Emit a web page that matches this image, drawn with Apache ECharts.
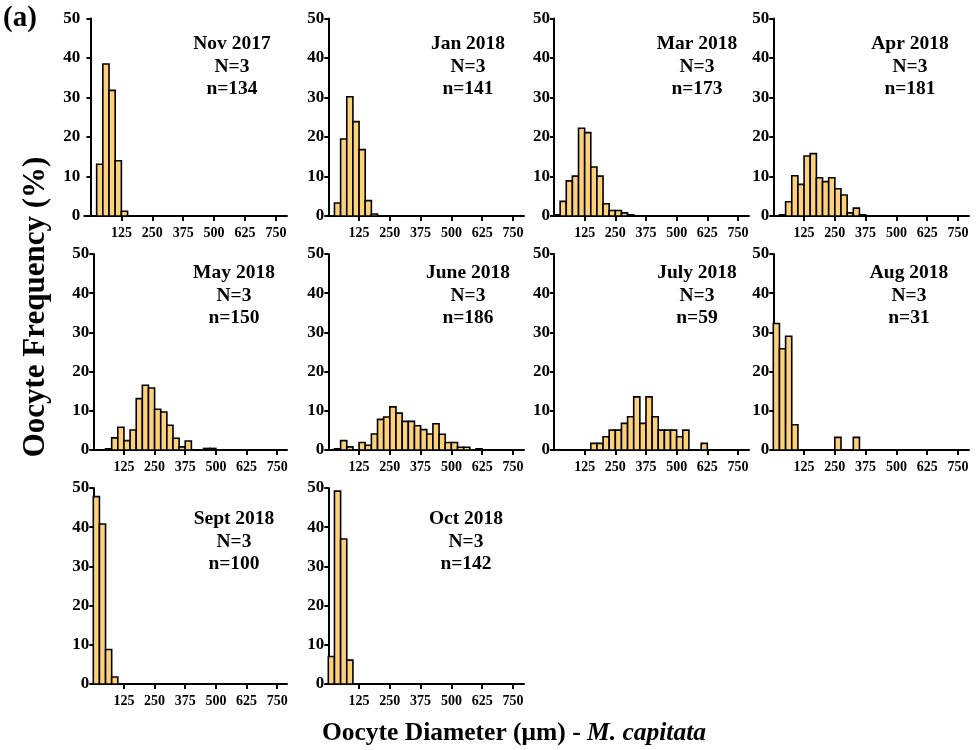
<!DOCTYPE html>
<html><head><meta charset="utf-8">
<script src="https://cdn.jsdelivr.net/npm/echarts@6/dist/echarts.min.js"></script>
<style>html,body{margin:0;padding:0;background:#fff}#c{width:977px;height:750px}</style>
</head><body><div id="c"></div>
<script>
// ---- data ----
const binLeft = [0,25,50,75,100,125,150,175,200,225,250,275,300,325,350,375,400,425,450,475,500,525,550,575,600,625,650,675,700,725];
const binWidth = 25;
const panelNames = ['Nov 2017','Jan 2018','Mar 2018','Apr 2018','May 2018','June 2018','July 2018','Aug 2018','Sept 2018','Oct 2018'];
const sampleN = [3,3,3,3,3,3,3,3,3,3];
const oocyteN = [134,141,173,181,150,186,59,31,100,142];
const yTicks = [0,10,20,30,40,50];
const xTicks = [125,250,375,500,625,750];

const nov  = [0,13.1,38.5,31.8,14.0,1.2, 0,0,0,0, 0,0,0,0,0, 0,0,0,0,0, 0,0,0,0,0, 0,0,0,0,0];
const jan  = [0,3.3,19.5,30.2,23.9,16.8,3.9,0.5, 0,0, 0,0,0,0,0, 0,0,0,0,0, 0,0,0,0,0, 0,0,0,0,0];
const mar  = [0.3,3.7,8.9,10.1,22.2,21.1,12.4,10.1,3.1,1.4,1.4,0.8,0.3, 0,0, 0,0,0,0,0, 0,0,0,0,0, 0,0,0,0,0];
const apr  = [0,0.3,3.6,10.2,8.0,15.2,15.8,9.7,8.7,9.7,6.9,5.3,0.8,2.0,0.3, 0,0,0,0,0, 0,0,0,0,0, 0,0,0,0,0];
const may  = [0,0,0.3,3.1,5.8,2.4,5.1,13.1,16.5,15.8,10.4,9.7,6.3,3.0,0.8,2.3,0,0,0.4,0.4, 0,0,0,0,0, 0,0,0,0,0];
const june = [0,0.3,2.4,0.8,0,1.9,1.2,4.1,7.8,8.4,11.0,9.4,7.3,7.3,6.2,5.2,4.1,6.7,4.0,1.9,1.9,0.7,0.7,0,0.3, 0,0,0,0,0];
const july = [0,0,0,0,0,0,1.69,1.69,3.39,5.08,5.08,6.78,8.47,13.56,6.78,13.56,8.47,5.08,5.08,5.08,3.39,5.08,0,0,1.69, 0,0,0,0,0];
const aug  = [32.26,25.81,29.03,6.45,0,0,0,0,0,0,3.23,0,0,3.23,0, 0,0,0,0,0, 0,0,0,0,0, 0,0,0,0,0];
const sept = [47.8,40.8,8.8,1.8,0, 0,0,0,0,0, 0,0,0,0,0, 0,0,0,0,0, 0,0,0,0,0, 0,0,0,0,0];
const oct  = [7.0,49.2,37.0,6.1,0, 0,0,0,0,0, 0,0,0,0,0, 0,0,0,0,0, 0,0,0,0,0, 0,0,0,0,0];
const panelValues = [nov,jan,mar,apr,may,june,july,aug,sept,oct];

// ---- layout / style ----
const FONT = "'Liberation Serif','Times New Roman',serif";
const BAR_FILL = '#FDD07A';
const layout = [
  {left:84.3, top:18.5, width:202.7, height:197.5, min:-25, max:795, tx:232, ty:44},
  {left:328.3,top:18.5, width:195.7, height:197.5, min:0, max:795, tx:468, ty:44},
  {left:554,  top:18.5, width:195,   height:197.5, min:0, max:795, tx:697, ty:44},
  {left:773.3,top:18.5, width:195.7, height:197.5, min:0, max:795, tx:910, ty:44},
  {left:93.3, top:254,  width:193.7, height:196,   min:0, max:790, tx:234, ty:273},
  {left:328.3,top:254,  width:195.7, height:196,   min:0, max:795, tx:468, ty:273},
  {left:554,  top:254,  width:195,   height:196,   min:0, max:795, tx:697, ty:273},
  {left:773.3,top:254,  width:195.7, height:196,   min:0, max:795, tx:909, ty:273},
  {left:93.3, top:488,  width:193.7, height:196,   min:0, max:790, tx:234, ty:519},
  {left:328.3,top:488,  width:195.7, height:196,   min:0, max:795, tx:466, ty:519}
];
const axisLineStyle = {color:'#000', width:2};

const grid = [], xAxis = [], yAxis = [], series = [], graphic = [];
layout.forEach((L, i) => {
  grid.push({left:L.left, top:L.top, width:L.width, height:L.height, containLabel:false, outerBoundsMode:'none'});
  xAxis.push({
    gridIndex:i, type:'value', min:L.min, max:L.max,
    axisLine:{show:true, onZero:false, lineStyle:axisLineStyle},
    axisTick:{show:true, customValues:xTicks, length:5, lineStyle:{color:'#000', width:2}},
    axisLabel:{show:true, customValues:xTicks, margin:10, fontSize:14, fontWeight:'bold', fontFamily:FONT, color:'#000'},
    splitLine:{show:false}
  });
  yAxis.push({
    gridIndex:i, type:'value', min:0, max:50, interval:10,
    axisLine:{show:true, lineStyle:axisLineStyle},
    axisTick:{show:true, length:4, lineStyle:{color:'#000', width:2}},
    axisLabel:{show:true, margin:4, fontSize:17, fontWeight:'bold', fontFamily:FONT, color:'#000'},
    splitLine:{show:false}
  });
  const vals = panelValues[i];
  series.push({
    type:'custom', xAxisIndex:i, yAxisIndex:i,
    data: binLeft.map((b, k) => [b, vals[k]]),
    encode:{x:0, y:1},
    renderItem: function (params, api) {
      const x0 = api.value(0), v = api.value(1);
      const p0 = api.coord([x0, v]);
      const p1 = api.coord([x0 + binWidth, 0]);
      return {
        type:'rect',
        shape:{x:p0[0], y:p0[1], width:p1[0]-p0[0], height:p1[1]-p0[1]},
        style:{fill:BAR_FILL, stroke:'#000', lineWidth:1.6}
      };
    },
    silent:true, animation:false
  });
  graphic.push({
    type:'text', x:L.tx, y:L.ty - 11.25,
    style:{text: panelNames[i] + '\nN=' + sampleN[i] + '\nn=' + oocyteN[i],
      align:'center', verticalAlign:'top', lineHeight:22.5,
      fontSize:19.5, fontWeight:'bold', fontFamily:FONT, fill:'#000'}
  });
});
graphic.push({type:'text', x:3, y:4, style:{text:'(a)', fontSize:29, fontWeight:'bold', fontFamily:FONT, fill:'#000'}});
graphic.push({type:'text', x:36, y:307, rotation:Math.PI/2,
  style:{text:'Oocyte Frequency (%)', align:'center', verticalAlign:'middle', fontSize:31, fontWeight:'bold', fontFamily:FONT, fill:'#000'}});
graphic.push({type:'text', x:514, y:733,
  style:{text:'Oocyte Diameter (μm) - {i|M. capitata}', align:'center', verticalAlign:'middle', fontSize:25.5, fontWeight:'bold', fontFamily:FONT, fill:'#000',
    rich:{i:{fontStyle:'italic', fontWeight:'bold', fontSize:25.5, fontFamily:FONT, fill:'#000'}}}});

const chart = echarts.init(document.getElementById('c'), null, {renderer:'canvas'});
chart.setOption({animation:false, backgroundColor:'#fff', grid, xAxis, yAxis, series, graphic});
</script></body></html>
